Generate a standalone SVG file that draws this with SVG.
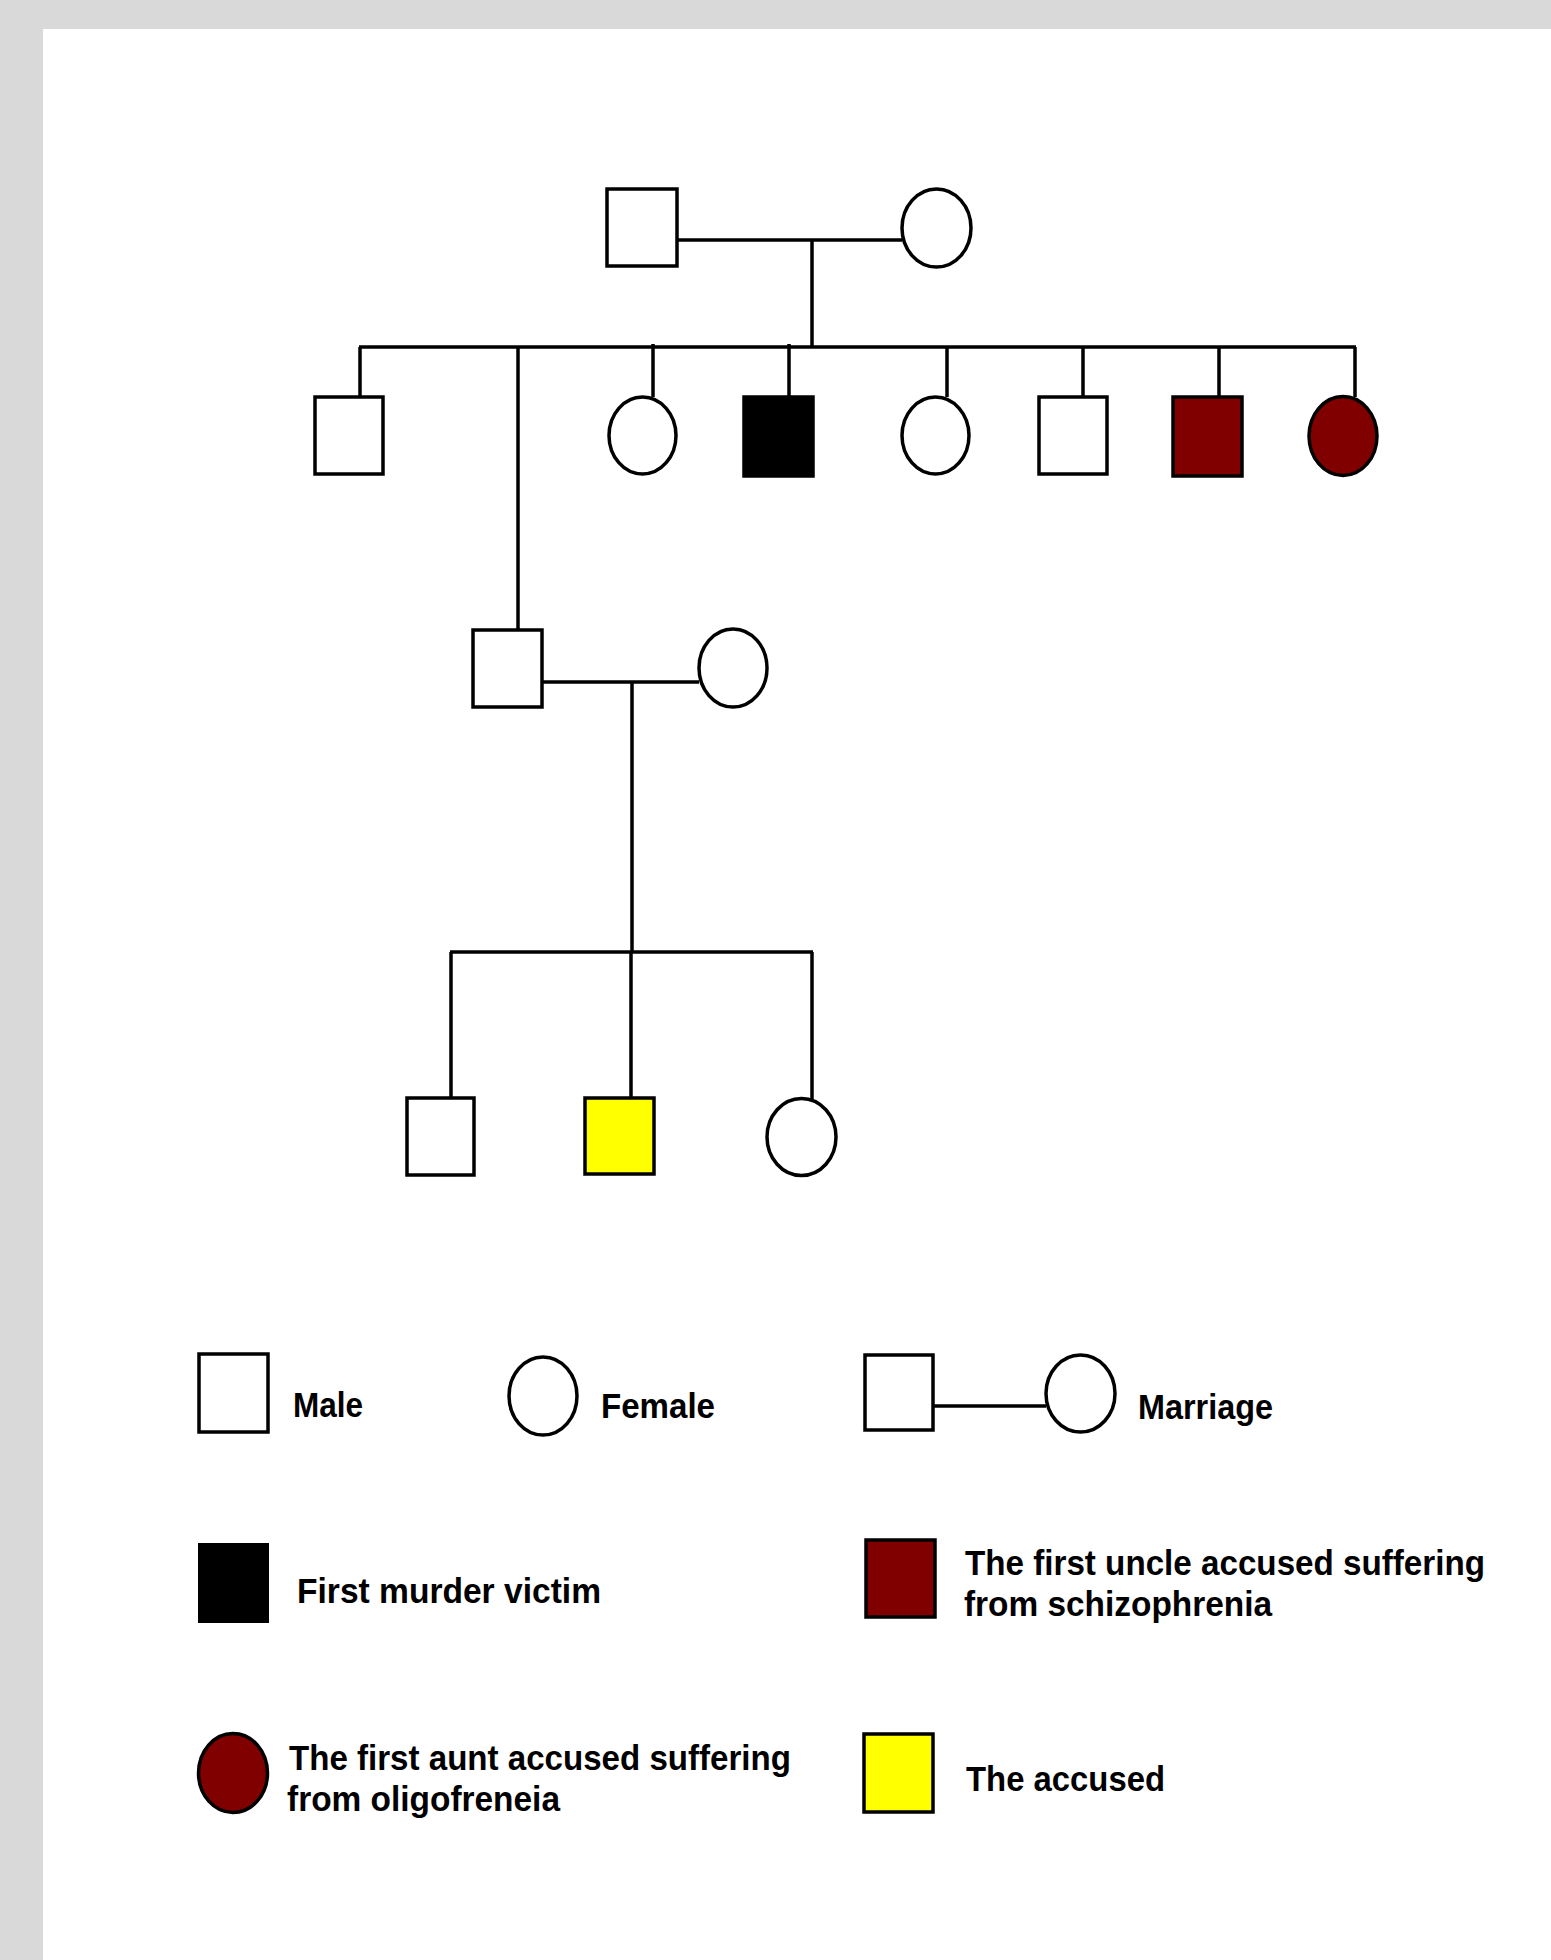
<svg xmlns="http://www.w3.org/2000/svg" width="1551" height="1960" viewBox="0 0 1551 1960">
<style>
.sym{stroke:#000;stroke-width:3.5}
.m{fill:#fff}
.f{fill:#fff}
.victim{fill:#000}
.uncle{fill:#800000}
.aunt{fill:#800000}
.acc{fill:#ffff00}
.ln{stroke:#000;stroke-width:3.5;fill:none}
.lbl{font-family:"Liberation Sans",Arial,sans-serif;font-weight:bold;font-size:35px;fill:#000}
</style>
<rect x="0" y="0" width="1551" height="1960" fill="#d9d9d9"/>
<rect x="43" y="29" width="1508" height="1931" fill="#fff"/>

<g id="connectors">
<path class="ln" d="M677 240H902"/>
<path class="ln" d="M812 240V347"/>
<path class="ln" d="M359 347H1356"/>
<path class="ln" d="M360 347V397"/>
<path class="ln" d="M518 347V630"/>
<path class="ln" d="M653 344V397"/>
<path class="ln" d="M789 344V396"/>
<path class="ln" d="M947 347V397"/>
<path class="ln" d="M1083 347V397"/>
<path class="ln" d="M1219 347V397"/>
<path class="ln" d="M1355 347V397"/>
<path class="ln" d="M542 682H699"/>
<path class="ln" d="M632 682V952"/>
<path class="ln" d="M450 952H813"/>
<path class="ln" d="M451 952V1098"/>
<path class="ln" d="M631 952V1098"/>
<path class="ln" d="M812 952V1099"/>
</g>

<g id="gen1-father"><rect class="sym m" x="607" y="189" width="70" height="77"/></g>
<g id="gen1-mother"><ellipse class="sym f" cx="936.5" cy="228" rx="34.5" ry="39"/></g>

<g id="gen2-son1"><rect class="sym m" x="315" y="397" width="68" height="77"/></g>
<g id="gen2-daughter1"><ellipse class="sym f" cx="642.5" cy="435.5" rx="33.5" ry="38.5"/></g>
<g id="gen2-victim"><rect class="sym victim" x="744" y="397" width="69" height="79"/></g>
<g id="gen2-daughter2"><ellipse class="sym f" cx="935.5" cy="435.5" rx="33.5" ry="38.5"/></g>
<g id="gen2-son2"><rect class="sym m" x="1039" y="397" width="68" height="77"/></g>
<g id="gen2-uncle"><rect class="sym uncle" x="1173" y="397" width="69" height="79"/></g>
<g id="gen2-aunt"><ellipse class="sym aunt" cx="1343" cy="436" rx="34" ry="39.5"/></g>

<g id="gen2-father"><rect class="sym m" x="473" y="630" width="69" height="77"/></g>
<g id="gen2-mother"><ellipse class="sym f" cx="733" cy="668" rx="34" ry="39"/></g>

<g id="gen3-brother"><rect class="sym m" x="407" y="1098" width="67" height="77"/></g>
<g id="gen3-accused"><rect class="sym acc" x="585" y="1098" width="69" height="76"/></g>
<g id="gen3-sister"><ellipse class="sym f" cx="801.5" cy="1137" rx="34.5" ry="38.5"/></g>

<g id="legend">
<g id="legend-male">
<rect class="sym m" x="199" y="1354" width="69" height="78"/>
<text class="lbl" x="293" y="1417" textLength="70" lengthAdjust="spacingAndGlyphs">Male</text>
</g>
<g id="legend-female">
<ellipse class="sym f" cx="543" cy="1396" rx="34" ry="39"/>
<text class="lbl" x="601" y="1418" textLength="114" lengthAdjust="spacingAndGlyphs">Female</text>
</g>
<g id="legend-marriage">
<rect class="sym m" x="865" y="1355" width="68" height="75"/>
<path class="ln" d="M933 1406H1046"/>
<ellipse class="sym f" cx="1080.5" cy="1393.5" rx="34.5" ry="38.5"/>
<text class="lbl" x="1138" y="1419" textLength="135" lengthAdjust="spacingAndGlyphs">Marriage</text>
</g>
<g id="legend-victim">
<rect class="victim" x="198" y="1543" width="71" height="80"/>
<text class="lbl" x="297" y="1603" textLength="304" lengthAdjust="spacingAndGlyphs">First murder victim</text>
</g>
<g id="legend-uncle">
<rect class="sym uncle" x="866" y="1540" width="69" height="77"/>
<text class="lbl" x="965" y="1575" textLength="520" lengthAdjust="spacingAndGlyphs">The first uncle accused suffering</text>
<text class="lbl" x="964" y="1616" textLength="308" lengthAdjust="spacingAndGlyphs">from schizophrenia</text>
</g>
<g id="legend-aunt">
<ellipse class="sym aunt" cx="233" cy="1773" rx="34.5" ry="39.5"/>
<text class="lbl" x="289" y="1770" textLength="502" lengthAdjust="spacingAndGlyphs">The first aunt accused suffering</text>
<text class="lbl" x="287" y="1811" textLength="273" lengthAdjust="spacingAndGlyphs">from oligofreneia</text>
</g>
<g id="legend-accused">
<rect class="sym acc" x="864" y="1734" width="69" height="78"/>
<text class="lbl" x="966" y="1791" textLength="199" lengthAdjust="spacingAndGlyphs">The accused</text>
</g>
</g>
</svg>
